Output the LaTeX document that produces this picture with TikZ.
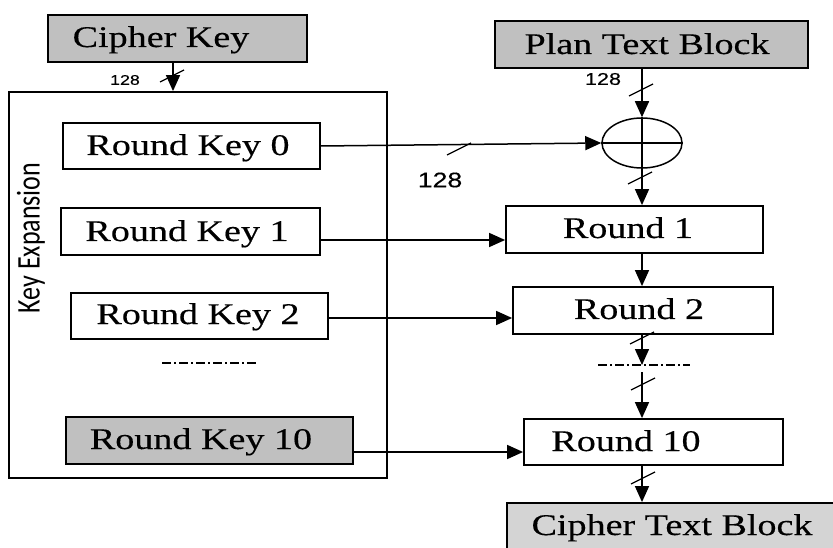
\documentclass[tikz,border=0pt]{standalone}
\usepackage{fontspec}
\setmainfont{Liberation Serif}[FakeStretch=1.27,FakeBold=0.35]
\newfontfamily\numfont{Liberation Sans}[FakeStretch=1.27,FakeBold=0.3]
\newfontfamily\kefont{Carlito}
\usetikzlibrary{arrows.meta,calc,shapes.geometric}
\definecolor{boxgray}{RGB}{192,192,192}
\definecolor{ctbgray}{RGB}{212,212,212}
\begin{document}
\begin{tikzpicture}[x=1pt,y=-1pt,
  box/.style={draw, line width=1.8pt, inner sep=0pt},
  gbox/.style={box, fill=boxgray},
  conn/.style={line width=1.5pt, -{Triangle[length=16pt,width=14pt]}},
  plain/.style={line width=1.5pt},
  lab/.style={inner sep=0pt, text height=20pt, text depth=0pt, font=\fontsize{30}{34}\selectfont},
  num/.style={inner sep=0pt},
  tick/.style={line width=1.3pt},
  dashdot/.style={line width=1.5pt, dash pattern=on 9pt off 3pt on 2pt off 3pt}]
\useasboundingbox (0,0) rectangle (833,548);
\clip (0,0) rectangle (833,548);

% boxes
\node[gbox, minimum width=259pt, minimum height=47pt] (ck) at (177.5,38.5) {};
\node[gbox, minimum width=313pt, minimum height=47pt] (pt) at (651.5,44.5) {};
\node[box, minimum width=378pt, minimum height=386pt] (ke) at (198,285) {};
\node[box, minimum width=257pt, minimum height=46pt] (rk0) at (191.5,146) {};
\node[box, minimum width=259pt, minimum height=47pt] (rk1) at (190.5,231.5) {};
\node[box, minimum width=257pt, minimum height=46pt] (rk2) at (199.5,316) {};
\node[gbox, minimum width=287pt, minimum height=47pt] (rk10) at (209.5,440.5) {};
\node[box, minimum width=257pt, minimum height=47pt] (r1) at (634.5,229.5) {};
\node[box, minimum width=260pt, minimum height=47pt] (r2) at (643,310.5) {};
\node[box, minimum width=259pt, minimum height=46pt] (r10) at (653.5,442) {};
\node[box, fill=ctbgray, minimum width=340pt, minimum height=60pt] (ctb) at (677,533) {};

% texts
\node[lab] (tck) at (161,37) {Cipher Key};
\node[lab] (tpt) at (647,44) {Plan Text Block};
\node[lab] (trk0) at (188,145) {Round Key 0};
\node[lab] (trk1) at (187,231) {Round Key 1};
\node[lab] (trk2) at (198,314) {Round Key 2};
\node[lab] (trk10) at (201,439) {Round Key 10};
\node[lab] (tr1) at (628,228) {Round 1};
\node[lab] (tr2) at (639,309) {Round 2};
\node[lab] (tr10) at (626,441) {Round 10};
\node[lab] (tctb) at (672,525) {Cipher Text Block};
\node[inner sep=0pt, rotate=90, font=\kefont\fontsize{26}{30}\selectfont] (tke) at (31,238) {\scalebox{1}[1.27]{Key Expansion}};

% numbers
\node[num, font=\numfont\fontsize{14}{16}\selectfont] (n1) at (125,80) {128};
\node[num, font=\numfont\fontsize{17}{19}\selectfont] (n2) at (603,79) {128};
\node[num, font=\numfont\fontsize{21}{24}\selectfont] (n3) at (440,180) {128};

% XOR
\node[ellipse, draw, line width=1.5pt, minimum width=80pt, minimum height=50pt, inner sep=0pt] (xor) at (642,143) {};
\draw[plain] (xor.north) -- (xor.south);
\draw[plain] (xor.west) -- (xor.east);

% helper coordinates
\coordinate (kx) at (173,0);
\coordinate (mx) at (642,0);
\coordinate (y1) at (0,240);
\coordinate (y2) at (0,318);
\coordinate (y10) at (0,452);
\coordinate (dl1) at (162,363);
\coordinate (dl2) at (257,363);
\coordinate (dr1) at (598,365);
\coordinate (dr2) at (690,365);
\coordinate (dc) at (642,365);
\coordinate (dcs) at (642,372);

% connectors
\draw[conn] (ck.south -| kx) -- (ke.north -| kx);
\draw[conn] (pt.south -| mx) -- (xor.north);
\draw[conn] (rk0.east) -- (xor.west);
\draw[conn] (xor.south) -- (r1.north -| mx);
\draw[conn] (rk1.east |- y1) -- (r1.west |- y1);
\draw[conn] (r1.south -| mx) -- (r2.north -| mx);
\draw[conn] (rk2.east |- y2) -- (r2.west |- y2);
\draw[conn] (r2.south -| mx) -- (dc);
\draw[conn] (dcs) -- (r10.north -| mx);
\draw[conn] (rk10.east |- y10) -- (r10.west |- y10);
\draw[conn] (r10.south -| mx) -- (ctb.north -| mx);

% dash-dot continuation lines
\draw[dashdot] (dl1) -- (dl2);
\draw[dashdot] (dr1) -- (dr2);

% bus ticks
\foreach \tx/\ty in {172/76, 641/90, 459/149, 640/178, 642/338, 643/384, 643/478}
  \draw[tick] (\tx-12,\ty+6) -- (\tx+12,\ty-6);
\end{tikzpicture}
\end{document}
